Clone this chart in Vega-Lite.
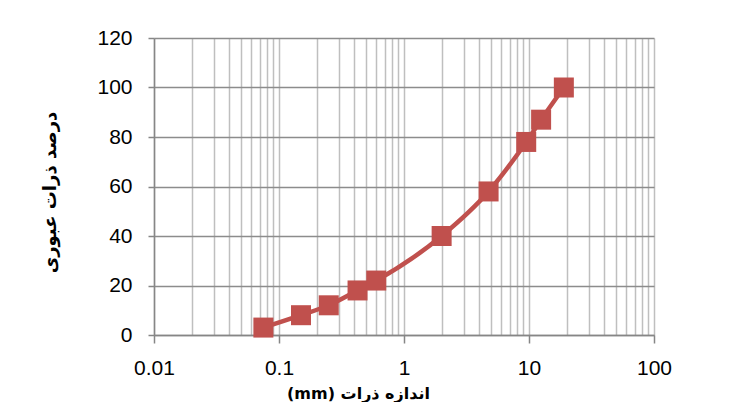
{
  "$schema": "https://vega.github.io/schema/vega-lite/v6.json",
  "width": 500,
  "height": 297,
  "autosize": {"type": "none"},
  "padding": {"left": 154, "top": 38, "right": 99, "bottom": 67},
  "background": "white",
  "config": {"view": {"stroke": null}},
  "data": {
    "values": [
      {"size": 0.075, "pass": 3},
      {"size": 0.15, "pass": 8},
      {"size": 0.25, "pass": 12},
      {"size": 0.425, "pass": 18},
      {"size": 0.6, "pass": 22},
      {"size": 2, "pass": 40},
      {"size": 4.75, "pass": 58},
      {"size": 9.5, "pass": 78},
      {"size": 12.5, "pass": 87},
      {"size": 19, "pass": 100}
    ]
  },
  "encoding": {
    "x": {
      "field": "size",
      "type": "quantitative",
      "scale": {"type": "log", "domain": [0.01, 100], "nice": false},
      "axis": {
        "values": [0.01,0.02,0.03,0.04,0.05,0.06,0.07,0.08,0.09,0.1,0.2,0.3,0.4,0.5,0.6,0.7,0.8,0.9,1,2,3,4,5,6,7,8,9,10,20,30,40,50,60,70,80,90,100],
        "labelExpr": "abs(log(datum.value)/LN10 - round(log(datum.value)/LN10)) < 0.000001 ? format(datum.value, '~g') : ''",
        "tickOpacity": {"condition": {"test": "abs(log(datum.value)/LN10 - round(log(datum.value)/LN10)) < 0.000001", "value": 1}, "value": 0},
        "tickSize": 8,
        "tickWidth": 1.5,
        "tickColor": "#868686",
        "domainColor": "#868686",
        "domainWidth": 1.5,
        "grid": true,
        "gridColor": "#BFBFBF",
        "gridWidth": 1.5,
        "labelFont": "Liberation Sans",
        "labelFontSize": 21,
        "labelColor": "#000000",
        "labelPadding": 14,
        "labelFlush": false,
        "labelOverlap": false,
        "title": "(mm) اندازه ذرات",
        "titleFont": "DejaVu Sans",
        "titleFontSize": 16,
        "titleFontWeight": "bold",
        "titleColor": "#000000",
        "titleX": 204,
        "titleY": 58,
        "titleAnchor": null,
        "titleAlign": "center",
        "titleBaseline": "middle"
      }
    },
    "y": {
      "field": "pass",
      "type": "quantitative",
      "scale": {"domain": [0, 120], "nice": false},
      "axis": {
        "values": [0, 20, 40, 60, 80, 100, 120],
        "tickSize": 6,
        "tickWidth": 1.5,
        "tickColor": "#868686",
        "domainColor": "#868686",
        "domainWidth": 1.5,
        "grid": true,
        "gridColor": "#8C8C8C",
        "gridWidth": 1.5,
        "labelFont": "Liberation Sans",
        "labelFontSize": 21,
        "labelColor": "#000000",
        "labelPadding": 16,
        "title": "درصد ذرات عبوری",
        "titleFont": "DejaVu Sans",
        "titleFontSize": 18,
        "titleFontWeight": "bold",
        "titleColor": "#000000",
        "titleAngle": -90,
        "titleX": -104,
        "titleY": 154,
        "titleAlign": "center",
        "titleBaseline": "middle"
      }
    }
  },
  "layer": [
    {
      "mark": {"type": "line", "color": "#C0504D", "strokeWidth": 4.5, "interpolate": "monotone"}
    },
    {
      "mark": {"type": "point", "shape": "square", "filled": true, "size": 400, "color": "#C0504D", "opacity": 1}
    }
  ]
}
